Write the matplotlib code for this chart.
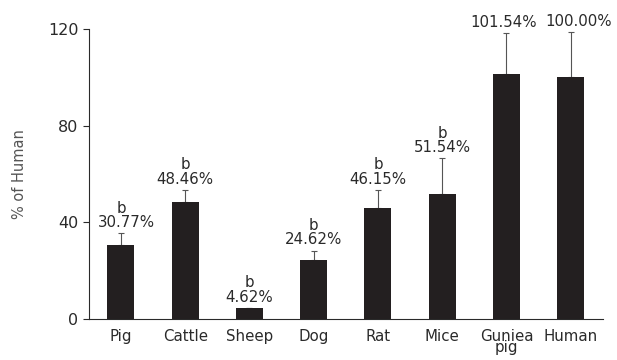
import numpy as np
import matplotlib.pyplot as plt

species = ['Pig', 'Cattle', 'Sheep', 'Dog', 'Rat', 'Mice', 'Guniea\npig', 'Human']
pct_of_human = [30.77, 48.46, 4.62, 24.62, 46.15, 51.54, 101.54, 100.00]
err_up = [4.7, 5.0, 0.0, 3.7, 7.2, 15.0, 17.0, 18.9]
sig = ['b', 'b', 'b', 'b', 'b', 'b', '', '']

plt.rcParams['font.family'] = ['DejaVu Sans']

fig = plt.figure(figsize=(6.17, 3.6), dpi=100)
ax = fig.add_axes([0.144, 0.114, 0.833, 0.805])

x = np.arange(len(species))
bar_col = '#231f20'
txt_col = '#2a2a2a'
ax.bar(x, pct_of_human, width=0.42, color=bar_col, zorder=2)
err = np.array([np.zeros(len(err_up)), err_up])
ax.errorbar(x, pct_of_human, yerr=err, fmt='none', ecolor='#555555',
            elinewidth=0.8, capsize=2.5, capthick=0.8, zorder=1)

# small horizontal nudges (points) so neighbouring labels don't collide
nudge = {0: 4, 6: -2, 7: 6}
for i, (xi, v, e, s) in enumerate(zip(x, pct_of_human, err_up, sig)):
    top = v + e + 1.3
    ax.annotate('%.2f%%' % v, (xi, top), xytext=(nudge.get(i, 0), 0),
                textcoords='offset points', ha='center', va='bottom',
                fontsize=10.8, color=txt_col)
    if s:
        ax.annotate(s, (xi, top), xytext=(0, 10.5),
                    textcoords='offset points', ha='center', va='bottom',
                    fontsize=10.8, color=txt_col)

ax.set_xlim(-0.5, 7.5)
ax.set_ylim(0, 120)
ax.set_yticks([0, 40, 80, 120])
ax.set_xticks(x)
ax.set_xticklabels(species, linespacing=0.7)
ax.tick_params(axis='y', labelsize=11.5, length=4.5, width=0.8, colors=txt_col, pad=3)
ax.tick_params(axis='x', labelsize=10.8, length=0, colors=txt_col, pad=7)
ax.spines['top'].set_visible(False)
ax.spines['right'].set_visible(False)
ax.spines['left'].set_linewidth(0.8)
ax.spines['bottom'].set_linewidth(0.8)
ax.spines['left'].set_color(txt_col)
ax.spines['bottom'].set_color(txt_col)
ax.set_ylabel('% of Human', fontsize=10.5, color='#555555', labelpad=15)

fig.savefig('out.png', dpi=100)
